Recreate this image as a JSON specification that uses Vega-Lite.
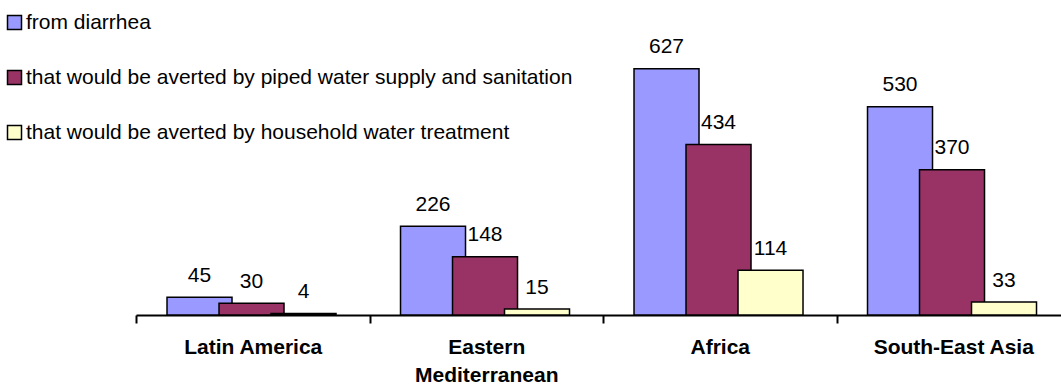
{
  "$schema": "https://vega.github.io/schema/vega-lite/v6.json",
  "width": 925,
  "height": 275,
  "autosize": {"type": "none"},
  "padding": {"left": 136, "top": 40, "right": 0, "bottom": 70},
  "background": "white",
  "config": {"view": {"stroke": null}, "font": "Liberation Sans"},
  "data": {
    "values": [
      {"region": "Latin America", "series": "from diarrhea", "value": 45},
      {"region": "Latin America", "series": "that would be averted by piped water supply and sanitation", "value": 30},
      {"region": "Latin America", "series": "that would be averted by household water treatment", "value": 4},
      {"region": "Eastern Mediterranean", "series": "from diarrhea", "value": 226},
      {"region": "Eastern Mediterranean", "series": "that would be averted by piped water supply and sanitation", "value": 148},
      {"region": "Eastern Mediterranean", "series": "that would be averted by household water treatment", "value": 15},
      {"region": "Africa", "series": "from diarrhea", "value": 627},
      {"region": "Africa", "series": "that would be averted by piped water supply and sanitation", "value": 434},
      {"region": "Africa", "series": "that would be averted by household water treatment", "value": 114},
      {"region": "South-East Asia", "series": "from diarrhea", "value": 530},
      {"region": "South-East Asia", "series": "that would be averted by piped water supply and sanitation", "value": 370},
      {"region": "South-East Asia", "series": "that would be averted by household water treatment", "value": 33}
    ]
  },
  "encoding": {
    "x": {
      "field": "region",
      "type": "nominal",
      "sort": ["Latin America", "Eastern Mediterranean", "Africa", "South-East Asia"],
      "scale": {"range": [0, 934], "paddingInner": 0, "paddingOuter": 0},
      "axis": {
        "title": null,
        "labelAngle": 0,
        "labelFont": "Liberation Sans",
        "labelFontSize": 21,
        "labelFontWeight": "bold",
        "labelColor": "black",
        "labelLimit": 0,
        "labelPadding": 13,
        "labelLineHeight": 28,
        "labelExpr": "datum.value == 'Eastern Mediterranean' ? ['Eastern', 'Mediterranean'] : datum.value",
        "domainColor": "black",
        "domainWidth": 2,
        "tickColor": "black",
        "tickWidth": 2,
        "tickSize": 8,
        "tickBand": "extent",
        "grid": false
      }
    },
    "xOffset": {
      "field": "series",
      "type": "nominal",
      "sort": ["from diarrhea", "that would be averted by piped water supply and sanitation", "that would be averted by household water treatment"],
      "scale": {"range": [60.2, 216.2], "paddingInner": 0, "paddingOuter": 0}
    },
    "y": {
      "field": "value",
      "type": "quantitative",
      "scale": {"domain": [0, 700]},
      "axis": null
    }
  },
  "layer": [
    {
      "mark": {"type": "bar", "width": {"band": 1.25}, "stroke": "black", "strokeWidth": 1.5},
      "encoding": {
        "color": {
          "field": "series",
          "type": "nominal",
          "scale": {
            "domain": ["from diarrhea", "that would be averted by piped water supply and sanitation", "that would be averted by household water treatment"],
            "range": ["#9999FF", "#993366", "#FFFFCC"]
          },
          "legend": {
            "orient": "none",
            "legendX": -132,
            "legendY": -28,
            "title": null,
            "direction": "vertical",
            "symbolType": "square",
            "symbolSize": 196,
            "symbolStrokeColor": "black",
            "symbolStrokeWidth": 1.5,
            "symbolOpacity": 1,
            "labelFont": "Liberation Sans",
            "labelFontSize": 21,
            "labelColor": "black",
            "labelLimit": 0,
            "labelOffset": 1,
            "rowPadding": 33,
            "padding": 0
          }
        }
      }
    },
    {
      "mark": {"type": "text", "baseline": "alphabetic", "dy": -15.5, "dx": -22.7, "fontSize": 21, "font": "Liberation Sans", "color": "black"},
      "encoding": {
        "text": {"field": "value", "type": "quantitative"}
      }
    }
  ]
}
